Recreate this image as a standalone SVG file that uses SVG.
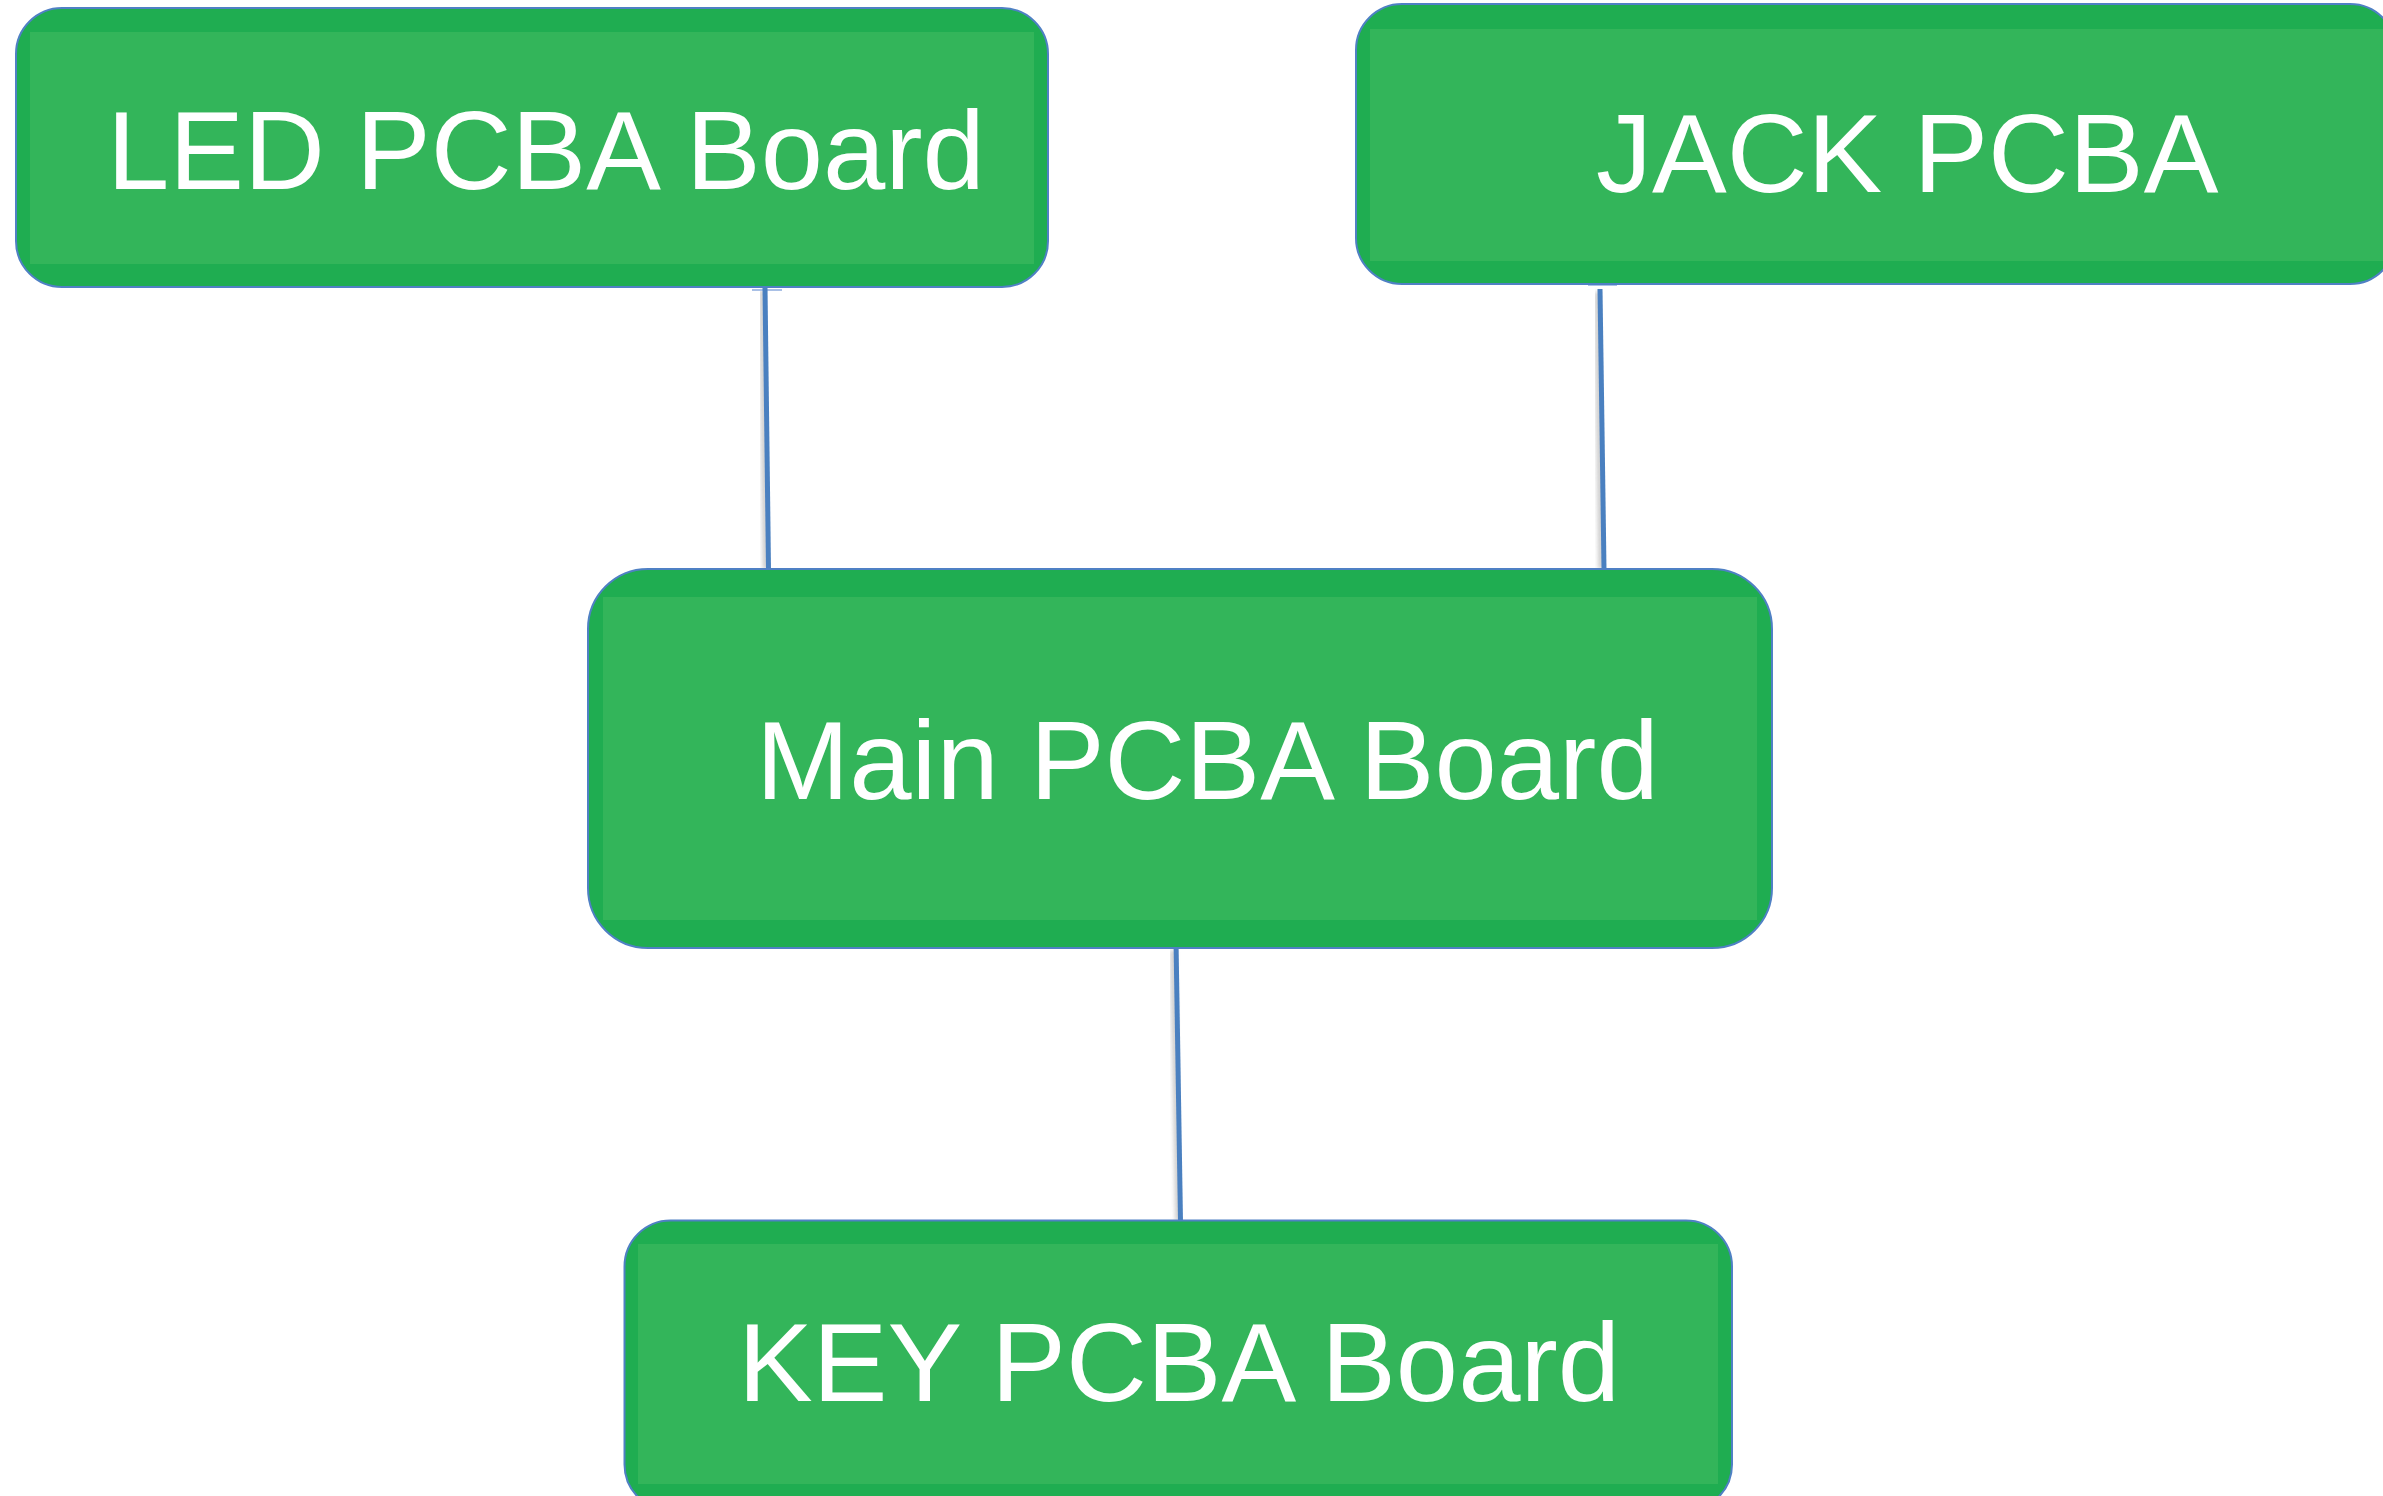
<svg xmlns="http://www.w3.org/2000/svg" width="2383" height="1496" viewBox="0 0 2383 1496">
<style>
.outer{fill:#1fad51;stroke:#4f80c4;stroke-width:2}
.inner{fill:#33b55a}
.lbl{font-family:"Liberation Sans",Arial,sans-serif;font-size:112px;fill:#ffffff}
.wire{stroke:#4a80c0;stroke-width:5;fill:none;stroke-linecap:butt}
.shadow{stroke:#9a9a9a;stroke-width:5;fill:none;opacity:0.55}
.cap{stroke:#a9c0e6;stroke-width:2;fill:none}
</style>
<defs>
<filter id="blur" x="-50%" y="-5%" width="200%" height="110%"><feGaussianBlur stdDeviation="2"/></filter>
</defs>
<rect width="2383" height="1496" fill="#ffffff"/>
<g id="connectors">
<g id="c-led-main">
<line class="shadow" filter="url(#blur)" x1="762" y1="290" x2="765.5" y2="569"/>
<line class="cap" x1="752" y1="290" x2="782" y2="290"/>
<line class="cap" x1="752" y1="570" x2="782" y2="570"/>
<line class="wire" x1="765" y1="288" x2="768.5" y2="569"/>
</g>
<g id="c-jack-main">
<line class="shadow" filter="url(#blur)" x1="1597" y1="292" x2="1601" y2="569"/>
<line class="cap" x1="1588" y1="285" x2="1617" y2="285"/>
<line class="cap" x1="1588" y1="570" x2="1617" y2="570"/>
<line class="wire" x1="1600" y1="289" x2="1604" y2="569"/>
</g>
<g id="c-main-key">
<line class="shadow" filter="url(#blur)" x1="1173" y1="950" x2="1178" y2="1221"/>
<line class="cap" x1="1164" y1="1221" x2="1193" y2="1221"/>
<line class="wire" x1="1176" y1="941" x2="1180.5" y2="1221"/>
</g>
</g>
<g id="node-led">
<rect class="outer" x="16" y="8" width="1032" height="279" rx="46" ry="46"/>
<rect class="inner" x="30" y="32" width="1004" height="232"/>
<text class="lbl" x="107" y="189">LED PCBA Board</text>
</g>
<g id="node-jack">
<rect class="outer" x="1356" y="4" width="1040" height="280" rx="46" ry="46"/>
<rect class="inner" x="1370" y="29" width="1020" height="232"/>
<text class="lbl" x="1596" y="192">JACK PCBA</text>
</g>
<g id="node-main">
<rect class="outer" x="588" y="569" width="1184" height="379" rx="60" ry="60"/>
<rect class="inner" x="603" y="597" width="1154" height="323"/>
<text class="lbl" x="756" y="799">Main PCBA Board</text>
</g>
<g id="node-key">
<rect class="outer" x="624.5" y="1220.5" width="1107.5" height="290" rx="46" ry="46"/>
<rect class="inner" x="638" y="1244" width="1080" height="240"/>
<text class="lbl" x="738" y="1401">KEY PCBA Board</text>
</g>
</svg>
